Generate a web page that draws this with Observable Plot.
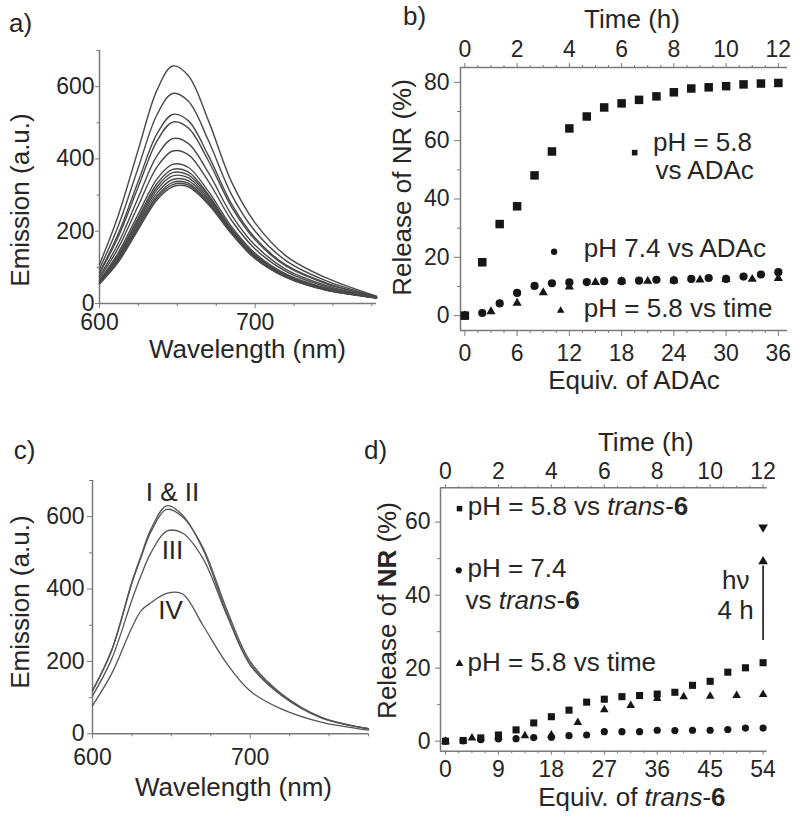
<!DOCTYPE html>
<html><head><meta charset="utf-8">
<script src="https://cdn.jsdelivr.net/npm/d3@7"></script>
<script src="https://cdn.jsdelivr.net/npm/@observablehq/plot@0.6"></script>
<style>
body{margin:0;background:#fff;}
#fig{position:relative;width:800px;height:820px;overflow:hidden;background:#fff}
#fig svg{position:absolute;overflow:visible}
</style></head><body><div id="fig"></div>
<script>
// ---------- DATA ----------
// Panel a: emission spectra during titration
const wlA = [600, 612, 625, 637, 647, 657, 670, 685, 700, 720, 745, 778];
const emissionA = [
  [108, 243, 427, 591, 657, 631, 506, 335, 223, 131, 72, 20],
  [96, 214, 377, 523, 581, 560, 451, 300, 200, 118, 64, 19],
  [86, 192, 339, 470, 523, 506, 409, 274, 181, 106, 58, 17],
  [83, 184, 324, 450, 502, 486, 395, 266, 176, 103, 56, 18],
  [75, 166, 294, 409, 456, 443, 362, 244, 161, 94, 51, 16],
  [70, 153, 272, 378, 422, 412, 338, 229, 151, 88, 47, 16],
  [64, 140, 248, 345, 385, 377, 310, 212, 139, 81, 43, 15],
  [62, 134, 238, 332, 371, 364, 301, 206, 135, 79, 42, 15],
  [60, 130, 232, 323, 362, 356, 296, 203, 133, 77, 41, 15],
  [59, 126, 226, 315, 353, 348, 290, 201, 131, 76, 40, 16],
  [57, 123, 220, 306, 343, 340, 285, 198, 128, 74, 39, 16],
  [56, 119, 214, 298, 335, 333, 280, 195, 126, 73, 39, 16],
  [55, 117, 210, 293, 329, 328, 277, 194, 125, 72, 38, 16],
  [54, 114, 205, 287, 323, 323, 274, 192, 124, 72, 37, 16]
];
const specYMajor = [0, 200, 400, 600];
const specYMinor = [100, 300, 500, 700];
const specXMajor = [600, 700];
const specXMinor = [625, 650, 675, 725, 750, 775];

// Panel b: release vs ADAc / time
const eqB = [0, 2, 4, 6, 8, 10, 12, 14, 16, 18, 20, 22, 24, 26, 28, 30, 32, 34, 36];
const sqB = [0, 18.3, 31.4, 37.5, 48.1, 56.3, 64.2, 68.3, 71.4, 72.8, 74.0, 75.2, 76.6, 77.9, 78.3, 78.7, 79.3, 79.6, 79.8];
const ciB = [0, 0.9, 4.2, 7.8, 10.2, 11.1, 11.4, 11.5, 11.8, 11.8, 12.0, 12.3, 12.1, 12.6, 12.9, 12.6, 13.4, 14.1, 14.9];
const timeB = [0, 1, 2, 3, 4, 5, 6, 7, 8, 9, 10, 11, 12];
const trB = [0, 1.4, 4.3, 7.9, 9.9, 11.4, 11.8, 11.8, 12.0, 12.3, 12.4, 12.5, 12.8];
const bYMajor = [0, 20, 40, 60, 80];
const bYMinor = [10, 30, 50, 70];
const bXMajor = [0, 6, 12, 18, 24, 30, 36];
const bTimeMajor = [0, 2, 4, 6, 8, 10, 12];
const bLegendMarks = [{s: "square", x: 19.5, y: 55.9}, {s: "circle", x: 10.25, y: 21.9}, {s: "triangle", x: 11.0, y: 1.7}];
const bLegendText = [{t: "pH = 5.8", x: 21.6, y: 59.4}, {t: "vs ADAc", x: 21.9, y: 49.7},
                     {t: "pH 7.4 vs ADAc", x: 13.66, y: 22.9}, {t: "pH = 5.8 vs time", x: 13.66, y: 2.4}];

// Panel c: spectra I-IV
const wlC = [600, 612, 625, 631, 637, 647, 657, 670, 685, 700, 720, 745, 775];
const emI   = [120, 230, 420, 495, 565, 630, 605, 510, 335, 193, 108, 45, 14];
const emII  = [118, 228, 416, 490, 558, 620, 600, 515, 345, 200, 110, 46, 14];
const emIII = [105, 205, 370, 440, 500, 560, 555, 485, 330, 190, 105, 44, 14];
const emIV  = [78, 165, 294, 341, 362, 388, 387, 300, 195, 118, 68, 32, 10];
const cLabels = [{t: "I & II", x: 650.7, y: 667}, {t: "III", x: 650.7, y: 506}, {t: "IV", x: 649.5, y: 340}];

// Panel d: release vs trans-6 / time
const eqD = [0, 3, 6, 9, 12, 15, 18, 21, 24, 27, 30, 33, 36, 39, 42, 45, 48, 51, 54];
const sqD = [0, 0.2, 0.9, 1.7, 3.1, 5.0, 6.7, 8.5, 10.7, 11.5, 12.2, 12.5, 12.9, 13.4, 15.3, 16.4, 18.9, 20.1, 21.5];
const ciD = [0, 0.1, 0.4, 0.6, 0.7, 1.0, 1.1, 1.5, 1.7, 2.6, 2.6, 2.6, 3.0, 2.9, 3.0, 3.0, 3.2, 3.6, 3.6];
const timeD = [0, 1, 2, 3, 4, 5, 6, 7, 8, 9, 10, 11, 12];
const trD = [0, 0.9, 1.2, 1.5, 1.7, 5.1, 8.6, 9.8, 11.7, 12.2, 12.3, 12.5, 12.8];
const irradiated = [{x: 54, y: 58.6}];
const arrowShaft = [{x: 54, y1: 27.6, y2: 48}];
const arrowHead = [{x: 54, y: 49.2}];
const dYMajor = [0, 20, 40, 60];
const dYMinor = [10, 30, 50];
const dXMajor = [0, 9, 18, 27, 36, 45, 54];
const dTimeMajor = [0, 2, 4, 6, 8, 10, 12];
const dLegendMarks = [{s: "square", x: 2.38, y: 63.7}, {s: "circle", x: 2.26, y: 46.8}, {s: "triangle", x: 2.38, y: 21.2}];
const dLegendText = [{t: "pH = 5.8 vs *trans*-#6#", x: 3.8, y: 64.1}, {t: "pH = 7.4", x: 3.74, y: 47.2},
                     {t: "vs *trans*-#6#", x: 3.4, y: 38.5}, {t: "pH = 5.8 vs time", x: 3.74, y: 21.6}];
const hvText = [{t: "hν", x: 51.7, y: 44.0}, {t: "4 h", x: 52.4, y: 35.8}];

// ---------- STYLE ----------
const FONT = "'Liberation Sans', Arial, Helvetica, sans-serif";
const AX = "#7a7a7a";
const TXT = "#262626";
const INK = "#161616";
const baseStyle = {fontFamily: FONT, fontSize: "23px", color: TXT, background: "transparent", overflow: "visible"};
const blank = () => "";
const C = {textAnchor: "middle", lineAnchor: "middle", fontSize: 26};

function rich(svg) {
  svg.querySelectorAll("text").forEach(t => {
    const s = t.textContent;
    if (!/[*#]/.test(s)) return;
    t.textContent = "";
    s.split(/(\*[^*]+\*|#[^#]+#)/).filter(Boolean).forEach(part => {
      const ts = document.createElementNS("http://www.w3.org/2000/svg", "tspan");
      if (part[0] === "*") { ts.setAttribute("font-style", "italic"); ts.textContent = part.slice(1, -1); }
      else if (part[0] === "#") { ts.setAttribute("font-weight", "bold"); ts.textContent = part.slice(1, -1); }
      else ts.textContent = part;
      t.appendChild(ts);
    });
  });
}
function place(svg, left, top) {
  svg.style.position = "absolute";
  svg.style.left = left + "px";
  svg.style.top = top + "px";
  document.getElementById("fig").appendChild(svg);
  rich(svg);
}
function minorBetween(lo, hi, step, major) {
  return d3.range(lo, hi + step / 2, step).filter(v => !major.some(m => Math.abs(m - v) < 1e-6));
}

// ---------- PANEL A ----------
const rowsA = emissionA.flatMap((arr, k) => wlA.map((w, i) => ({w, v: arr[i], k})));
const plotA = Plot.plot({
  width: 400, height: 390, marginLeft: 99, marginRight: 24, marginTop: 50, marginBottom: 87,
  style: baseStyle,
  x: {domain: [600, 778]}, y: {domain: [0, 700]},
  marks: [
    Plot.axisY({ticks: specYMajor, tickSize: 4, tickPadding: 1, stroke: AX, fill: TXT, label: null}),
    Plot.axisY({ticks: specYMinor, tickSize: 2.5, tickFormat: blank, stroke: AX, label: null}),
    Plot.axisX({ticks: specXMajor, tickSize: 5, tickPadding: 5, stroke: AX, fill: TXT, label: null}),
    Plot.axisX({ticks: specXMinor, tickSize: 3, tickFormat: blank, stroke: AX, label: null}),
    Plot.ruleX([600], {stroke: AX, strokeWidth: 1.5}),
    Plot.ruleY([0], {stroke: AX, strokeWidth: 1.5}),
    Plot.line(rowsA, {x: "w", y: "v", z: "k", curve: "catmull-rom", stroke: "#4a4a4a", strokeWidth: 1.4}),
    Plot.text(["a)"], {...C, text: d => d, frameAnchor: "top-left", dx: -79, dy: -27}),
    Plot.text(["Emission (a.u.)"], {...C, text: d => d, frameAnchor: "left", rotate: -90, dx: -79, dy: 23}),
    Plot.text(["Wavelength (nm)"], {...C, text: d => d, frameAnchor: "bottom", dx: 9.5, dy: 46})
  ]
});
place(plotA, 0, 0);

// ---------- PANEL B ----------
const bMinor = minorBetween(0, 36, 1.5, bXMajor);
const plotB = Plot.plot({
  width: 420, height: 400, marginLeft: 80, marginRight: 13, marginTop: 67, marginBottom: 70,
  style: baseStyle,
  x: {domain: [-0.5, 37.05]}, y: {domain: [-5.1, 85.1]},
  marks: [
    Plot.axisY({ticks: bYMajor, tickSize: 6, tickPadding: 5, stroke: AX, fill: TXT, label: null}),
    Plot.axisY({ticks: bYMinor, tickSize: 3, tickFormat: blank, stroke: AX, label: null}),
    Plot.axisX({ticks: bXMajor, tickSize: 6, tickPadding: 8, stroke: AX, fill: TXT, label: null}),
    Plot.axisX({ticks: bMinor, tickSize: 3, tickFormat: blank, stroke: AX, label: null}),
    Plot.axisX({anchor: "top", ticks: bTimeMajor.map(t => t * 3), tickFormat: d => String(Math.round(d / 3)),
                tickSize: 5, tickPadding: 6, stroke: AX, fill: TXT, label: null}),
    Plot.axisX({anchor: "top", ticks: bMinor, tickSize: 3, tickFormat: blank, stroke: AX, label: null}),
    Plot.ruleX([-0.5], {stroke: AX, strokeWidth: 1.5}),
    Plot.ruleY([-5.1], {stroke: AX, strokeWidth: 1.5}),
    Plot.ruleY([85.1], {stroke: AX, strokeWidth: 1.5}),
    Plot.dot(sqB, {x: (d, i) => eqB[i], y: d => d, symbol: "square", r: 4.8, fill: INK}),
    Plot.dot(trB, {x: (d, i) => timeB[i] * 3, y: d => d, symbol: "triangle", r: 3.4, fill: INK}),
    Plot.dot(ciB, {x: (d, i) => eqB[i], y: d => d, symbol: "circle", r: 4.1, fill: INK}),
    Plot.dot(bLegendMarks, {x: "x", y: "y", symbol: "s", r: d => d.s === "triangle" ? 3.4 : 4.3, fill: INK}),
    Plot.text(bLegendText, {x: "x", y: "y", text: "t", textAnchor: "start", fontSize: 26}),
    Plot.text(["b)"], {...C, text: d => d, frameAnchor: "top-left", dx: -46, dy: -51}),
    Plot.text(["Release of NR (%)"], {...C, text: d => d, frameAnchor: "left", rotate: -90, dx: -58, dy: -11.5}),
    Plot.text(["Time (h)"], {...C, text: d => d, frameAnchor: "top", dx: 8, dy: -48}),
    Plot.text(["Equiv. of ADAc"], {...C, text: d => d, frameAnchor: "bottom", dx: 10, dy: 50})
  ]
});
place(plotB, 380, 0);

// ---------- PANEL C ----------
const rowsC = [["I", emI], ["II", emII], ["III", emIII], ["IV", emIV]]
  .flatMap(([k, arr]) => wlC.map((w, i) => ({w, v: arr[i], k})));
const plotC = Plot.plot({
  width: 400, height: 420, marginLeft: 92, marginRight: 32, marginTop: 80, marginBottom: 86.7,
  style: baseStyle,
  x: {domain: [600, 775]}, y: {domain: [0, 700]},
  marks: [
    Plot.axisY({ticks: specYMajor, tickSize: 5, tickPadding: 3, stroke: AX, fill: TXT, label: null}),
    Plot.axisY({ticks: specYMinor, tickSize: 3, tickFormat: blank, stroke: AX, label: null}),
    Plot.axisX({ticks: specXMajor, tickSize: 5, tickPadding: 10, stroke: AX, fill: TXT, label: null}),
    Plot.axisX({ticks: specXMinor, tickSize: 3, tickFormat: blank, stroke: AX, label: null}),
    Plot.ruleX([600], {stroke: AX, strokeWidth: 1.5}),
    Plot.ruleY([0], {stroke: AX, strokeWidth: 1.5}),
    Plot.line(rowsC, {x: "w", y: "v", z: "k", curve: "catmull-rom", stroke: "#555", strokeWidth: 1.3}),
    Plot.text(cLabels, {x: "x", y: "y", text: "t", fontSize: 26}),
    Plot.text(["c)"], {...C, text: d => d, frameAnchor: "top-left", dx: -68, dy: -30}),
    Plot.text(["Emission (a.u.)"], {...C, text: d => d, frameAnchor: "left", rotate: -90, dx: -72, dy: -5}),
    Plot.text(["Wavelength (nm)"], {...C, text: d => d, frameAnchor: "bottom", dx: 3, dy: 53.5})
  ]
});
place(plotC, 0, 400);

// ---------- PANEL D ----------
const dMinor = minorBetween(0, 54, 2.25, dXMajor);
const plotD = Plot.plot({
  width: 450, height: 420, marginLeft: 90, marginRight: 33.3, marginTop: 87.3, marginBottom: 69.3,
  style: baseStyle,
  x: {domain: [-0.85, 54.7]}, y: {domain: [-2.74, 69.4]},
  marks: [
    Plot.axisY({ticks: dYMajor, tickSize: 5, tickPadding: 5, stroke: AX, fill: TXT, label: null}),
    Plot.axisY({ticks: dYMinor, tickSize: 3, tickFormat: blank, stroke: AX, label: null}),
    Plot.axisX({ticks: dXMajor, tickSize: 4, tickPadding: 5, stroke: AX, fill: TXT, label: null}),
    Plot.axisX({ticks: dMinor, tickSize: 2.5, tickFormat: blank, stroke: AX, label: null}),
    Plot.axisX({anchor: "top", ticks: dTimeMajor.map(t => t * 4.5), tickFormat: d => String(Math.round(d / 4.5)),
                tickSize: 4, tickPadding: 5, stroke: AX, fill: TXT, label: null}),
    Plot.axisX({anchor: "top", ticks: dMinor, tickSize: 2.5, tickFormat: blank, stroke: AX, label: null}),
    Plot.ruleX([-0.85], {stroke: AX, strokeWidth: 1.5}),
    Plot.ruleY([-2.74], {stroke: AX, strokeWidth: 1.5}),
    Plot.ruleY([69.4], {stroke: AX, strokeWidth: 1.5}),
    Plot.dot(sqD, {x: (d, i) => eqD[i], y: d => d, symbol: "square", r: 4.0, fill: INK}),
    Plot.dot(trD, {x: (d, i) => timeD[i] * 4.5, y: d => d, symbol: "triangle", r: 3.2, fill: INK}),
    Plot.dot(ciD, {x: (d, i) => eqD[i], y: d => d, symbol: "circle", r: 3.6, fill: INK}),
    Plot.dot(irradiated, {x: "x", y: "y", symbol: "triangle", r: 3.6, rotate: 180, fill: INK}),
    Plot.ruleX(arrowShaft, {x: "x", y1: "y1", y2: "y2", stroke: INK, strokeWidth: 1.6}),
    Plot.dot(arrowHead, {x: "x", y: "y", symbol: "triangle", r: 3.6, fill: INK}),
    Plot.text(hvText, {x: "x", y: "y", text: "t", textAnchor: "end", fontSize: 26}),
    Plot.dot(dLegendMarks, {x: "x", y: "y", symbol: "s", r: d => d.s === "triangle" ? 2.6 : 3.0, fill: INK}),
    Plot.text(dLegendText, {x: "x", y: "y", text: "t", textAnchor: "start", fontSize: 26}),
    Plot.text(["d)"], {...C, text: d => d, frameAnchor: "top-left", dx: -65, dy: -37.3}),
    Plot.text(["Release of #NR# (%)"], {...C, text: d => d, frameAnchor: "left", rotate: -90, dx: -53, dy: -9}),
    Plot.text(["Time (h)"], {...C, text: d => d, frameAnchor: "top", dx: 42, dy: -45.6}),
    Plot.text(["Equiv. of *trans*-#6#"], {...C, text: d => d, frameAnchor: "bottom", dx: 28, dy: 46})
  ]
});
place(plotD, 350, 400);
</script></body></html>
